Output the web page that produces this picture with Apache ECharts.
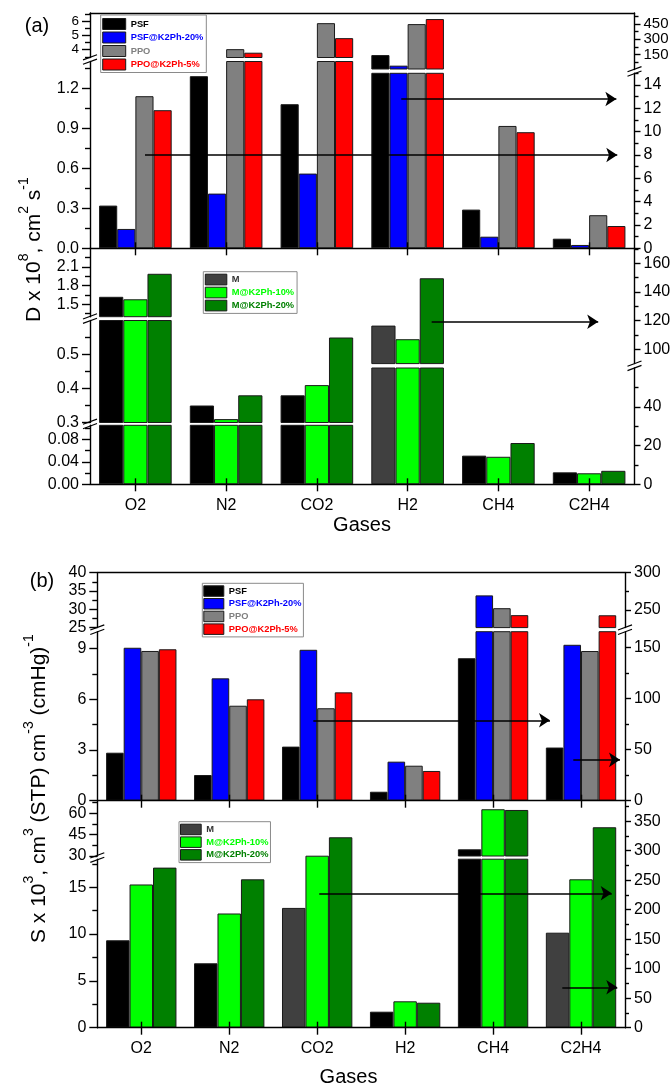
<!DOCTYPE html>
<html><head><meta charset="utf-8">
<script src="https://cdn.jsdelivr.net/npm/echarts@6/dist/echarts.min.js"></script>
<style>html,body{margin:0;padding:0;background:#fff}#c{width:672px;height:1084px}</style>
</head><body><div id="c"></div>
<script>
// ---------------- data ----------------
const gases = ['O2', 'N2', 'CO2', 'H2', 'CH4', 'C2H4'];

// (a) diffusivity D x 10^8 - PSF / PPO family ('R' = read on right axis)
const sideDa = ['L', 'L', 'L', 'R', 'L', 'L'];
const dPSF   = [0.32, 1.29, 1.08, 143, 0.29, 0.072];
const dPSF20 = [0.145, 0.41, 0.56, 38, 0.087, 0.025];
const dPPO   = [1.14, 4.04, 5.88, 450, 0.917, 0.248];
const dPPO5  = [1.035, 3.79, 4.82, 500, 0.87, 0.167];

// (a) diffusivity - M family
const sideDm = ['L', 'L', 'L', 'R', 'L', 'L'];
const dM   = [1.62, 0.35, 0.38, 116.5, 0.051, 0.0213];
const dM10 = [1.58, 0.31, 0.41, 107, 0.049, 0.0196];
const dM20 = [1.99, 0.38, 0.55, 149.5, 0.0735, 0.024];

// (b) solubility S x 10^3 - PSF / PPO family
const sideSa = ['L', 'L', 'L', 'L', 'L', 'R'];
const sPSF   = [2.84, 1.52, 3.2, 0.53, 8.43, 52];
const sPSF20 = [9.05, 7.24, 8.93, 2.31, 33.8, 152.5];
const sPPO   = [8.86, 5.62, 5.47, 2.07, 30.3, 146.4];
const sPPO5  = [8.96, 6.0, 6.41, 1.76, 28.4, 243];

// (b) solubility - M family
const sideSm = ['L', 'L', 'R', 'L', 'L', 'R'];
const sM   = [9.34, 6.88, 203, 1.71, 34.7, 161];
const sM10 = [15.3, 12.2, 291.5, 2.82, 62.8, 251.5];
const sM20 = [17.1, 15.85, 322.7, 2.67, 62.3, 339.7];

// tick labels of each axis segment
const tDaL0 = ['0.0', '0.3', '0.6', '0.9', '1.2'];
const tDaL1 = ['4', '5', '6'];
const tDaR0 = ['0', '2', '4', '6', '8', '10', '12', '14'];
const tDaR1 = ['150', '300', '450'];
const tDmL0 = ['0.00', '0.04', '0.08'];
const tDmL1 = ['0.3', '0.4', '0.5'];
const tDmL2 = ['1.5', '1.8', '2.1'];
const tDmR0 = ['0', '20', '40'];
const tDmR1 = ['100', '120', '140', '160'];
const tSaL0 = ['0', '3', '6', '9'];
const tSaL1 = ['25', '30', '35', '40'];
const tSaR0 = ['0', '50', '100', '150'];
const tSaR1 = ['250', '300'];
const tSmL0 = ['0', '5', '10', '15'];
const tSmL1 = ['30', '45', '60'];
const tSmR0 = ['0', '50', '100', '150', '200', '250', '300', '350'];

// arrows: [x start, x end (category index units), y (axis units)]
const arrowsDa = [[2.93, 5.30, 12.8], [0.106, 5.31, 8.0]];
const arrowsDm = [[3.265, 5.10, 119.2]];
const arrowsSa = [[1.956, 4.647, 4.76], [4.912, 5.443, 40]];
const arrowsSm = [[2.024, 5.349, 227.8], [4.787, 5.412, 68.5]];

// ---------------- layout / style ----------------
const FONT = 'Liberation Sans, Arial, Helvetica, sans-serif';
const W = 672;
const cPSF = ['#000000', '#0000ff', '#808080', '#ff0000'];
const cML = ['#000000', '#00ff00', '#008000'];
const cMR = ['#404040', '#00ff00', '#008000'];

const panels = [
  {
    names: ['PSF', 'PSF@K2Ph-20%', 'PPO', 'PPO@K2Ph-5%'],
    values: [dPSF, dPSF20, dPPO, dPPO5], side: sideDa,
    colorsL: cPSF, colorsR: cPSF, legendIcon: cPSF, legendText: cPSF,
    left: 90, right: W - 634.5,
    segs: {
      L0: {top: 61.5, bottom: 248.3, min: 0, max: 1.4, ticks: tDaL0},
      L1: {top: 13, bottom: 57.5, min: 3.45, max: 6.6, ticks: tDaL1, fs: 13.5},
      R0: {top: 73.3, bottom: 248.3, min: 0, max: 15, ticks: tDaR0},
      R1: {top: 13, bottom: 69.5, min: 0, max: 560, ticks: tDaR1, fs: 15}
    },
    bottom: 'L0', top: 'L1', xLabels: false,
    legend: {left: 100.7, top: 15, itemWidth: 23, itemHeight: 11, itemGap: 1.5, padding: [3, 3, 2, 1.5]},
    arrows: arrowsDa, arrowSeg: ['R0', 'R0']
  },
  {
    names: ['M', 'M@K2Ph-10%', 'M@K2Ph-20%'],
    values: [dM, dM10, dM20], side: sideDm,
    colorsL: cML, colorsR: cMR, legendIcon: cMR, legendText: ['#333333', '#00ff00', '#008000'],
    left: 90, right: W - 634.5,
    segs: {
      L0: {top: 425.3, bottom: 484.3, min: 0, max: 0.105, ticks: tDmL0},
      L1: {top: 320.5, bottom: 422.5, min: 0.3, max: 0.6, ticks: tDmL1},
      L2: {top: 248.3, bottom: 316.7, min: 1.3, max: 2.4, ticks: tDmL2},
      R0: {top: 368, bottom: 484.3, min: 0, max: 60, ticks: tDmR0},
      R1: {top: 248.3, bottom: 363.6, min: 90, max: 170.4, ticks: tDmR1}
    },
    bottom: 'L0', top: null, xLabels: true,
    legend: {left: 203.3, top: 271.7, itemWidth: 21.5, itemHeight: 10.7, itemGap: 1.3, padding: [2, 3, 2, 1.5]},
    arrows: arrowsDm, arrowSeg: ['R1']
  },
  {
    names: ['PSF', 'PSF@K2Ph-20%', 'PPO', 'PPO@K2Ph-5%'],
    values: [sPSF, sPSF20, sPPO, sPPO5], side: sideSa,
    colorsL: cPSF, colorsR: cPSF, legendIcon: cPSF, legendText: cPSF,
    left: 97.3, right: W - 625,
    segs: {
      L0: {top: 631.7, bottom: 800.7, min: 0, max: 10, ticks: tSaL0},
      L1: {top: 572.7, bottom: 627.6, min: 25, max: 40, ticks: tSaL1},
      R0: {top: 631.7, bottom: 800.7, min: 0, max: 165.3, ticks: tSaR0},
      R1: {top: 572.7, bottom: 627.6, min: 226.5, max: 300, ticks: tSaR1}
    },
    bottom: 'L0', top: 'L1', xLabels: false,
    legend: {left: 202.3, top: 583.3, itemWidth: 20, itemHeight: 10.5, itemGap: 1.2, padding: [2, 2, 2, 1]},
    arrows: arrowsSa, arrowSeg: ['L0', 'R0']
  },
  {
    names: ['M', 'M@K2Ph-10%', 'M@K2Ph-20%'],
    values: [sM, sM10, sM20], side: sideSm,
    colorsL: cML, colorsR: cMR, legendIcon: cMR, legendText: ['#333333', '#00ff00', '#008000'],
    left: 97.3, right: W - 625,
    segs: {
      L0: {top: 859.2, bottom: 1027.7, min: 0, max: 18, ticks: tSmL0},
      L1: {top: 800.7, bottom: 856, min: 30, max: 68.8, ticks: tSmL1},
      R0: {top: 800.7, bottom: 1027.7, min: 0, max: 384.7, ticks: tSmR0}
    },
    bottom: 'L0', top: null, xLabels: true,
    legend: {left: 179, top: 821.7, itemWidth: 20.7, itemHeight: 10.5, itemGap: 1.2, padding: [2, 2, 2, 1]},
    arrows: arrowsSm, arrowSeg: ['R0', 'R0']
  }
];

// ---------------- build option ----------------
const grid = [], xAxis = [], yAxis = [], series = [], graphic = [], legend = [];
const blk = {color: '#000', width: 1.4};

panels.forEach(p => {
  const segIdx = {};
  Object.keys(p.segs).forEach(k => {
    const s = p.segs[k];
    const isL = k[0] === 'L';
    const gi = grid.length;
    grid.push({left: p.left, right: p.right, top: s.top, height: s.bottom - s.top,
      containLabel: false, outerBoundsMode: 'none'});
    const isBottom = k === p.bottom, isTop = k === p.top;
    const cx = xAxis.length;
    xAxis.push({
      type: 'category', gridIndex: gi, data: gases, position: isTop ? 'top' : 'bottom',
      show: isBottom || isTop, z: 3,
      axisLine: {show: true, onZero: false, lineStyle: blk},
      axisTick: {show: isBottom, alignWithLabel: true, inside: false, length: 7, lineStyle: blk},
      axisLabel: {show: isBottom && p.xLabels, fontSize: 16, color: '#000', margin: 13, fontFamily: FONT, interval: 0},
      splitLine: {show: false}
    });
    if (isBottom) {
      xAxis.push({
        type: 'category', gridIndex: gi, data: gases, position: 'bottom', z: 6,
        axisLine: {show: false, onZero: false},
        axisTick: {show: true, alignWithLabel: true, inside: true, length: 6, lineStyle: blk},
        axisLabel: {show: false}, splitLine: {show: false}
      });
    }
    const vx = xAxis.length;
    xAxis.push({type: 'value', gridIndex: gi, min: -0.5, max: 5.5, show: false,
      axisLine: {onZero: false}, splitLine: {show: false}});

    const vals = s.ticks.map(Number);
    const step = vals.length > 1 ? vals[1] - vals[0] : 1;
    const minors = [];
    vals.forEach(v => [v - step / 2, v + step / 2].forEach(m => {
      if (m > s.min + 1e-9 && m < s.max + 1e-9 && !minors.some(q => Math.abs(q - m) < 1e-9)) minors.push(m);
    }));
    const yi = yAxis.length;
    yAxis.push({
      type: 'value', gridIndex: gi, position: isL ? 'left' : 'right', min: s.min, max: s.max, z: 3,
      axisLine: {show: true, onZero: false, lineStyle: blk},
      axisTick: {show: true, inside: false, length: isL ? 8 : 6, customValues: vals, lineStyle: blk},
      axisLabel: {
        show: true, customValues: vals, fontSize: s.fs || 16, lineHeight: 10, color: '#000', fontFamily: FONT,
        margin: isL ? 11 : 9, hideOverlap: false, interval: 0, showMinLabel: true, showMaxLabel: true,
        formatter: v => { const t = s.ticks.find(q => Math.abs(Number(q) - v) < 1e-9); return t === undefined ? '' : t; }
      },
      splitLine: {show: false}
    });
    yAxis.push({
      type: 'value', gridIndex: gi, position: isL ? 'left' : 'right', min: s.min, max: s.max, z: 3,
      axisLine: {show: false, onZero: false},
      axisTick: {show: true, inside: false, length: isL ? 5 : 4, customValues: minors, lineStyle: blk},
      axisLabel: {show: false}, splitLine: {show: false}
    });
    segIdx[k] = {gi, cx, vx, yi};
    p.names.forEach((nm, j) => {
      series.push({
        type: 'bar', name: nm, xAxisIndex: cx, yAxisIndex: yi, clip: true,
        barGap: '0%', barCategoryGap: '20%', animation: false, silent: true,
        itemStyle: {color: (isL ? p.colorsL : p.colorsR)[j], borderColor: '#1a1a1a', borderWidth: 1},
        data: p.values[j].map((v, i) => p.side[i] === k[0] ? v : '-')
      });
    });
  });

  // arrows
  p.arrows.forEach((a, ai) => {
    const sg = segIdx[p.arrowSeg[ai]];
    series.push({
      type: 'line', xAxisIndex: sg.vx, yAxisIndex: sg.yi, silent: true, z: 8,
      data: [[a[0], a[2]], [a[1], a[2]]], symbol: 'none', lineStyle: {opacity: 0}, animation: false,
      markLine: {
        silent: true, symbol: ['none', 'arrow'], symbolSize: 11, animation: false,
        lineStyle: {color: '#000', width: 1.6, type: 'solid'}, label: {show: false},
        emphasis: {disabled: true},
        data: [[{coord: [a[0], a[2]]}, {coord: [a[1], a[2]]}]]
      }
    });
  });

  // legend
  legend.push(Object.assign({
    orient: 'vertical', icon: 'rect', selectedMode: false,
    backgroundColor: '#fff', borderColor: '#8a8a8a', borderWidth: 1,
    textStyle: {fontSize: 9.3, fontWeight: 'bold', fontFamily: FONT},
    data: p.names.map((nm, j) => ({
      name: nm, icon: 'rect',
      itemStyle: {color: p.legendIcon[j], borderColor: '#1a1a1a', borderWidth: 1},
      textStyle: {color: p.legendText[j], fontWeight: 'bold', fontSize: 9.3}
    }))
  }, p.legend));

  // axis break marks
  ['L', 'R'].forEach(sd => {
    const ss = Object.keys(p.segs).filter(k => k[0] === sd).map(k => p.segs[k]).sort((a, b) => a.top - b.top);
    const x = sd === 'L' ? p.left : W - p.right;
    for (let i = 0; i + 1 < ss.length; i++) {
      const yc = (ss[i].bottom + ss[i + 1].top) / 2;
      [-2.2, 2.2].forEach(d => graphic.push({
        type: 'line', z: 50, silent: true,
        shape: {x1: x - 7, y1: yc + d + 2.6, x2: x + 7, y2: yc + d - 2.6},
        style: {stroke: '#000', lineWidth: 1.2}
      }));
    }
  });
});

// texts
const txt = (x, y, t, fs) => ({type: 'text', x, y, silent: true, z: 50,
  style: {text: t, fontSize: fs, fontFamily: FONT, fill: '#000', align: 'center', verticalAlign: 'middle'}});
graphic.push(txt(37, 26.5, '(a)', 20));
graphic.push(txt(42, 581.7, '(b)', 20));
graphic.push(txt(362, 525, 'Gases', 20));
graphic.push(txt(348.5, 1077, 'Gases', 20));
const rich = {
  n: {fontSize: 21, fontFamily: FONT, fill: '#000', lineHeight: 28, verticalAlign: 'bottom'},
  s: {fontSize: 14, fontFamily: FONT, fill: '#000', lineHeight: 14, verticalAlign: 'top'}
};
graphic.push({type: 'text', x: 31, y: 322, rotation: Math.PI / 2, silent: true, z: 50,
  style: {text: '{n|D x 10}{s|8}{n|, cm}{s|2}{n| s}{s|-1}', rich, align: 'left', verticalAlign: 'middle'}});
graphic.push({type: 'text', x: 36, y: 943, rotation: Math.PI / 2, silent: true, z: 50,
  style: {text: '{n|S x 10}{s|3}{n|, cm}{s|3}{n| (STP) cm}{s|-3}{n| (cmHg)}{s|-1}', rich, align: 'left', verticalAlign: 'middle'}});

const chart = echarts.init(document.getElementById('c'), null, {renderer: 'canvas'});
chart.setOption({
  backgroundColor: '#fff', animation: false,
  textStyle: {fontFamily: FONT},
  grid, xAxis, yAxis, series, legend, graphic
});
</script>
</body></html>
